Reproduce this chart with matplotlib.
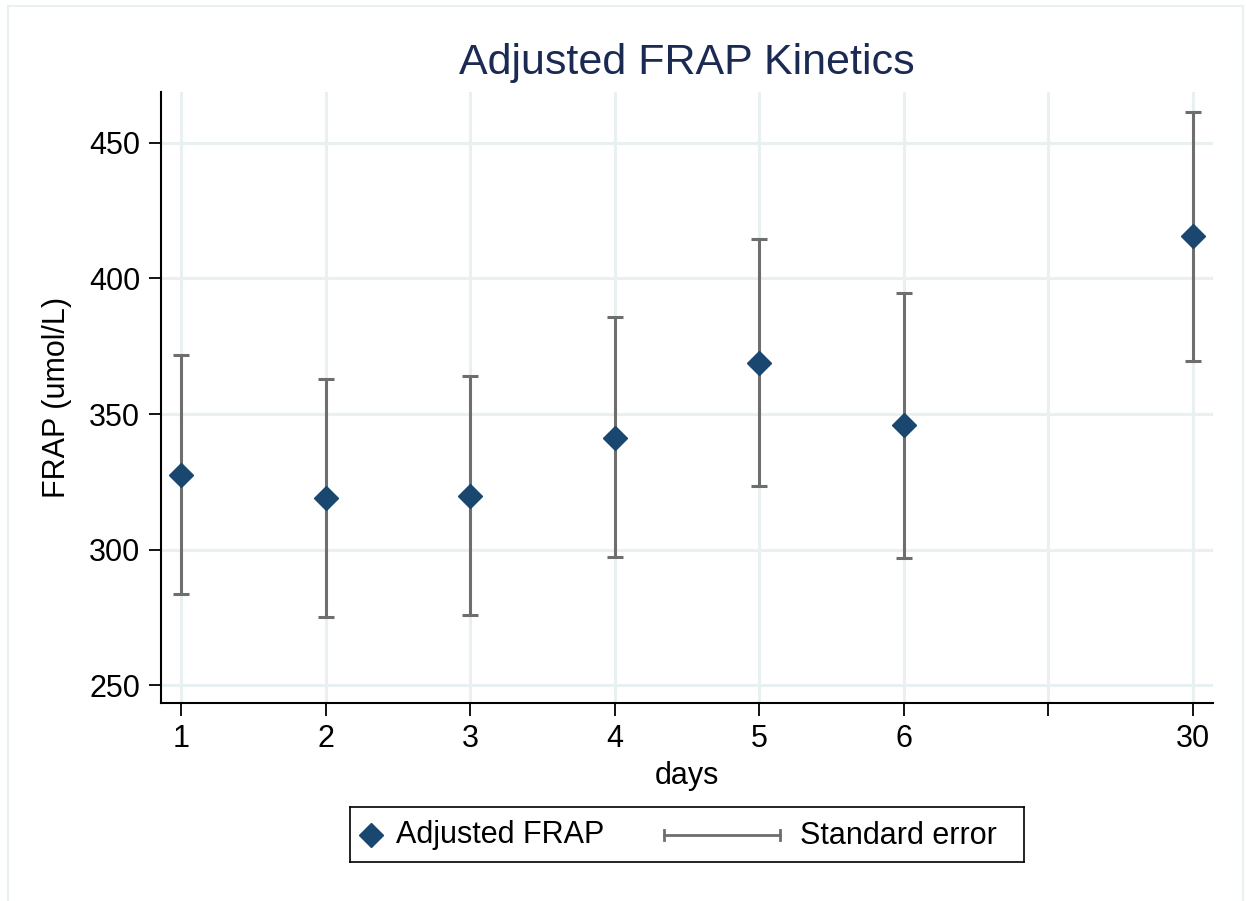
import numpy as np
import matplotlib
matplotlib.use("Agg")
import matplotlib.pyplot as plt
from matplotlib.patches import Rectangle

plt.rcParams['font.family'] = ['Liberation Sans', 'DejaVu Sans']

# data
day_labels = ['1', '2', '3', '4', '5', '6', '30']
day_pos = [1, 2, 3, 4, 5, 6, 8]
frap = [327.5, 319.0, 319.7, 341.1, 368.8, 346.0, 415.7]
se_upper = [371.8, 362.9, 364.0, 385.8, 414.6, 394.6, 461.4]
se_lower = [283.6, 275.1, 275.8, 297.2, 323.4, 296.9, 369.6]

xtick_pos = [1, 2, 3, 4, 5, 6, 7, 8]
xtick_labels = ['1', '2', '3', '4', '5', '6', '', '30']
ytick_pos = [250, 300, 350, 400, 450]

navy = '#1a476f'
gray = '#6e6e6e'
grid_col = '#e8f0f2'

W, H = 1246, 901
fig = plt.figure(figsize=(W / 100, H / 100), dpi=100)
fig.patch.set_facecolor('white')

# light outer frame like stata's graph region
fig.add_artist(Rectangle((8 / W, -0.02), (1243 - 8) / W, 1 - 6 / H + 0.02,
                         transform=fig.transFigure, fill=False,
                         edgecolor=grid_col, linewidth=1.5))

ax = fig.add_axes([161 / W, 1 - 703 / H, (1213 - 161) / W, (703 - 92) / H])

frap_a = np.array(frap)
yerr = [frap_a - np.array(se_lower), np.array(se_upper) - frap_a]
ax.errorbar(day_pos, frap, yerr=yerr, fmt='none', ecolor=gray,
            elinewidth=2.2, capsize=6, capthick=2.2, zorder=2)
ax.plot(day_pos, frap, linestyle='none', marker='D', markersize=12.5,
        color=navy, zorder=3)

ax.set_xlim(0.862, 8.138)
ax.set_ylim(243.4, 468.8)
ax.set_xticks(xtick_pos)
ax.set_xticklabels(xtick_labels)
ax.set_yticks(ytick_pos)

ax.grid(True, color=grid_col, linewidth=2.2)
ax.set_axisbelow(True)
for s in ['top', 'right']:
    ax.spines[s].set_visible(False)
for s in ['left', 'bottom']:
    ax.spines[s].set_linewidth(1.5)
    ax.spines[s].set_color('black')
ax.tick_params(direction='out', length=9, width=1.3, labelsize=22, pad=6)
ax.tick_params(axis='x', pad=6)

ax.set_xlabel('days', fontsize=22, labelpad=5)
ax.set_ylabel('FRAP (umol/L)', fontsize=22, labelpad=12)
ax.set_title('Adjusted FRAP Kinetics', fontsize=31, color='#1a2a52', pad=13)

# legend drawn in its own box below the plot
lx0, lx1, ly0, ly1 = 350, 1024, 807, 862
lax = fig.add_axes([lx0 / W, 1 - ly1 / H, (lx1 - lx0) / W, (ly1 - ly0) / H])
lax.set_xlim(0, lx1 - lx0)
lax.set_ylim(0, ly1 - ly0)
lax.set_xticks([])
lax.set_yticks([])
for s in lax.spines.values():
    s.set_linewidth(1.2)
    s.set_color('black')
mid = (ly1 - ly0) / 2
lax.plot([21], [mid], marker='D', markersize=12, color=navy, linestyle='none')
lax.text(46, mid - 1, 'Adjusted FRAP', fontsize=22, va='center', ha='left')
lax.plot([314, 430], [mid, mid], color=gray, linewidth=2)
lax.plot([314, 314], [mid - 5, mid + 5], color=gray, linewidth=2)
lax.plot([430, 430], [mid - 5, mid + 5], color=gray, linewidth=2)
lax.text(450, mid - 1, 'Standard error', fontsize=22, va='center', ha='left')

fig.savefig('out.png', dpi=100)
